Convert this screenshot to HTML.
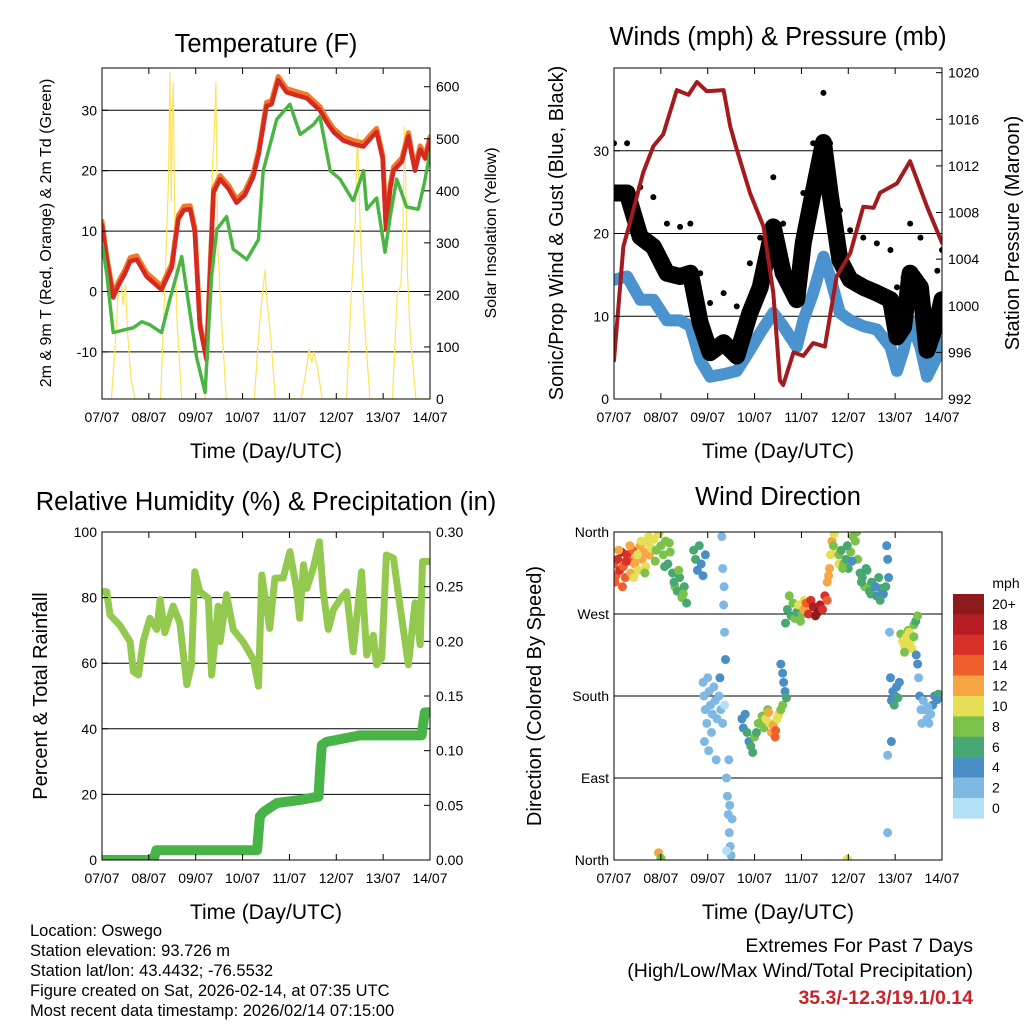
<!DOCTYPE html>
<html><head><meta charset="utf-8"><style>
body{margin:0;background:#fff;}
svg text{font-family:"Liberation Sans",sans-serif;fill:#000;}
</style></head><body>
<svg id="c" width="1024" height="1024" viewBox="0 0 1024 1024"></svg>
<script>
// ---------- DATA ----------
const dayTicks = ["07/07","08/07","09/07","10/07","11/07","12/07","13/07","14/07"];
const tempDays = [0,0.1,0.24,0.35,0.49,0.6,0.74,0.95,1.27,1.49,1.63,1.75,1.88,1.98,2.09,2.23,2.3,2.38,2.52,2.7,2.87,3.05,3.23,3.35,3.51,3.62,3.76,3.94,4.15,4.37,4.65,4.8,4.94,5.15,5.36,5.58,5.75,5.86,5.99,6.06,6.15,6.22,6.4,6.54,6.6,6.68,6.79,6.9,7.0];
const tempVals = [11,5.3,-1,1,3,5,5.3,2.5,0.3,4,12,13.5,13.6,10,-5.8,-11.3,2,16.4,18.6,17,14.7,16,19,23,30.7,31,35,33,32.5,32,30,28,26.4,25,24.4,24,25.5,26.4,22,10.3,17,20,21.5,25.7,23,20,23.5,22,25];
const dewDays = [0,0.1,0.24,0.4,0.67,0.85,1.02,1.27,1.45,1.7,1.81,2.02,2.2,2.34,2.45,2.66,2.8,3.09,3.34,3.44,3.73,4.01,4.23,4.51,4.65,4.87,5.08,5.36,5.58,5.65,5.86,6.04,6.15,6.29,6.5,6.75,6.88,7.0];
const dewVals = [8,3,-6.8,-6.5,-6,-5,-5.5,-6.8,-1.3,5.8,0,-11,-16.7,2.6,10.3,12.4,7,5.3,8.6,20,28.5,31,26,27.6,29,20,18.6,15,20,13.6,15.5,6.5,12.4,18.6,14,13.6,18,23];
const solarDays = [0,0.2,0.3,0.35,0.4,0.45,0.5,0.55,0.62,0.7,1.25,1.35,1.42,1.45,1.48,1.5,1.52,1.56,1.6,1.7,2.2,2.3,2.36,2.4,2.43,2.47,2.52,2.65,3.25,3.35,3.42,3.48,3.52,3.6,3.7,4.25,4.35,4.42,4.48,4.52,4.6,4.7,5.22,5.32,5.4,5.45,5.48,5.52,5.6,5.72,6.2,6.3,6.38,6.42,6.45,6.48,6.52,6.58,6.7,7.0];
const solarVals = [0,0,130,210,240,180,220,120,40,0,0,240,420,627,380,540,608,300,150,0,0,250,450,520,608,300,200,0,0,130,200,248,190,120,0,0,50,95,70,90,60,0,0,200,330,511,420,300,150,0,0,200,220,300,523,430,240,120,0,0];
const windDays = [0,0.28,0.56,0.84,1.13,1.41,1.63,1.84,2.05,2.34,2.62,2.9,3.12,3.4,3.61,3.9,4.04,4.25,4.47,4.61,4.82,5.04,5.32,5.61,5.9,6.04,6.18,6.32,6.54,6.68,6.9,7.0];
const gustVals = [24.9,24.9,19.6,18.4,15.2,14.8,15.2,9.2,5.6,6.8,5.2,10.4,13.5,20.8,15.2,12,18.9,24.9,31,24.9,16.8,14.4,13.5,12.8,12,7.5,8.7,15.2,13.5,5.9,9.5,12];
const sustVals = [14.4,14.8,12,12,9.5,9.5,8.8,4.7,2.7,3,3.4,5.9,8,10.4,8.8,6.3,9.5,12.8,17.2,14.8,10.4,9.5,8.8,8.4,6.3,3.4,5.9,9.5,6.3,2.7,5.2,6.9];
const presDays = [0,0.2,0.34,0.62,0.84,1.05,1.34,1.59,1.77,1.98,2.34,2.48,2.62,2.9,3.19,3.4,3.54,3.61,3.83,4.04,4.25,4.5,4.75,5.04,5.32,5.54,5.68,6.04,6.32,6.68,7.0];
const presVals = [995.3,1005.1,1007.1,1011.4,1013.7,1014.7,1018.5,1018.1,1019.2,1018.4,1018.5,1015.4,1013.4,1009.7,1006.8,1001.1,993.6,993.2,996,995.7,996.8,996.5,1002.5,1004.5,1008.5,1008.4,1009.7,1010.5,1012.4,1008.5,1005.4];
const rhDays = [0,0.1,0.17,0.38,0.6,0.67,0.78,0.88,1.02,1.17,1.24,1.34,1.52,1.66,1.81,1.91,1.98,2.09,2.27,2.34,2.48,2.52,2.66,2.8,3.02,3.23,3.34,3.41,3.58,3.69,3.87,4.01,4.15,4.22,4.3,4.37,4.51,4.64,4.72,4.83,4.94,5.08,5.22,5.36,5.54,5.65,5.79,5.86,5.97,6.07,6.22,6.36,6.54,6.68,6.79,6.84,7.0];
const rhVals = [81.8,81.8,74.7,71.6,66.6,57.4,56.4,66.6,73.7,70.3,79.4,69.3,77.4,72.3,53.4,59.5,87.9,81.8,79.8,56.4,77.4,66.6,80.9,70.3,66.3,61.2,53,86.9,70.6,85.9,86,94,82.8,73.7,90,82.8,89,97,81.8,70.3,76.4,79.4,81.8,63.5,87.9,62.5,68.5,59.5,61.5,93,92,77.4,59.5,78.4,65.6,91,91];
const rainDays = [0,1.1,1.16,3.31,3.37,3.45,3.73,4.23,4.62,4.65,4.69,4.79,5.5,6.82,6.89,7.0];
const rainVals = [0,0,0.009,0.009,0.04,0.044,0.052,0.055,0.058,0.08,0.105,0.108,0.114,0.114,0.135,0.135];
const dirDays = [].concat(
 [0,0.04,0.08,0.12,0.16,0.2,0.24,0.28,0.32,0.36,0.4,0.44,0.48,0.52,0.56,0.6,0.64,0.68,0.72,0.76,0.8,0.02,0.1,0.18,0.26,0.34,0.42,0.5,0.58,0.66,0.74],
 [0.85,0.9,0.95,1.0,1.05,1.1,1.15,1.2,1.25,1.3,1.35,1.4,1.45,1.5,1.55,0.88,0.98,1.08,1.18,1.28,1.38,1.48],
 [1.7,1.74,1.78,1.82,1.86,1.9,1.95],
 [1.9,1.92,1.95,1.98,2.0,2.03,2.06,2.1,2.13,2.16,2.2,2.24,2.28,2.32,2.36,1.93,2.02,2.08,2.18,2.26],
 [2.3,2.32,2.34,2.36,2.38,2.4,2.42,2.44,2.46,2.48,2.5,2.52,2.35,2.45,2.4,2.47],
 [2.73,2.76,2.8,2.84,2.88,2.92,2.96,3.0,3.04,3.08],
 [3.12,3.16,3.2,3.24,3.28,3.32,3.36,3.4,3.44,3.48,3.52,3.56,3.6,3.3,3.45],
 [3.56,3.6,3.62,3.65,3.68],
 [3.66,3.7,3.74,3.78,3.82,3.86,3.9,3.94,3.98,4.02,4.06,4.1],
 [4.05,4.1,4.15,4.2,4.25,4.3,4.35,4.4,4.45,4.5,4.55],
 [4.55,4.6,4.62,4.65,4.7,4.75,4.8,4.58,4.68],
 [4.8,4.85,4.9,4.95,5.0,5.05,5.1,5.15,5.2,5.25,5.3,5.35,5.4,5.45,5.5,5.55,5.6,5.65,5.7,5.75,5.8,4.88,4.98,5.08,5.18,5.28,5.38,5.48,5.58,5.68],
 [5.82,5.84,5.86,5.88,5.9,5.92,5.84,5.84],
 [5.92,5.95,5.98,6.0,6.03,6.06,6.09],
 [6.12,6.16,6.2,6.24,6.28,6.32,6.36,6.4,6.44,6.48,6.2,6.3,6.4],
 [6.45,6.48,6.5,6.52,6.55,6.57],
 [6.6,6.64,6.68,6.72,6.76,6.8,6.84,6.88,6.92,6.96,7.0,6.7,6.9],
 [0.95,1.0,4.98]);
const dirVals = [].concat(
 [325,312,330,318,338,322,310,335,328,315,340,325,332,318,345,330,338,322,348,335,342,305,340,300,328,345,310,335,350,315,355],
 [352,340,358,345,335,350,325,338,315,300,295,310,288,300,282,328,360,322,348,305,318,292],
 [340,330,318,345,325,312,335],
 [195,180,165,150,200,185,170,160,190,175,155,180,165,150,170,130,120,140,110,200],
 [355,320,280,250,220,90,70,50,30,15,5,45,300,110,10,60],
 [155,145,160,140,130,125,118,135,140,150],
 [150,158,145,155,165,150,140,148,135,155,160,165,170,162,142],
 [215,205,195,185,178],
 [260,275,290,268,282,265,272,280,262,270,285,278],
 [275,282,270,285,278,268,272,280,275,290,285],
 [305,320,335,350,358,340,325,312,345],
 [335,340,325,330,320,338,355,350,330,315,310,300,318,295,305,300,290,310,298,292,300,320,345,328,360,305,320,292,300,285],
 [345,330,310,250,200,130,115,30],
 [175,185,170,180,190,178,195],
 [248,240,235,245,252,238,232,258,262,268,228,250,245],
 [225,215,200,180,165,150],
 [175,165,155,150,160,170,180,178,182,180,181,168,176],
 [8,2,1]);
const dirSpeeds = [].concat(
 [15,14,17,16,19,15,14,16,14,13,15,12,13,11,12,12,13,10,11,12,10,14,13,15,16,12,11,10,11,9,10],
 [10,9,10,8,8,9,7,8,7,8,7,7,8,7,6,9,10,7,8,7,8,8],
 [6,6,5,6,4,5,4],
 [2,3,2,2,2,3,2,2,3,2,2,2,2,3,1,3,2,3,2,4],
 [2,3,3,3,4,2,2,3,2,2,3,2,3,2,1,2],
 [4,4,5,6,5,7,6,8,7,8],
 [8,9,8,10,9,11,13,12,15,11,10,9,8,12,14],
 [4,4,5,4,6],
 [6,7,8,7,8,9,7,10,9,8,10,11],
 [12,14,16,17,19,20,21,18,17,16,14],
 [13,12,11,12,10,11,10,12,9],
 [8,7,8,6,7,8,9,8,8,7,6,8,6,7,6,6,5,6,6,5,7,9,7,5,9,6,7,6,5,6],
 [4,4,4,3,4,4,3,3],
 [4,4,6,5,4,6,4],
 [8,10,11,10,9,10,11,8,7,8,9,11,8],
 [4,4,3,4,3,2],
 [2,2,3,2,2,4,4,5,6,6,7,3,5],
 [12,9,10]);
const speedLabels = ["20+","18","16","14","12","10","8","6","4","2","0"];
const speedColors = ["#8e1a1b","#b71c23","#d9302a","#ef5f2b","#f6a744","#e6df56","#7bc24a","#48a873","#4a8ec6","#7fb8e2","#b3e0f5"];

// ---------- HELPERS ----------
const NS="http://www.w3.org/2000/svg";
const svg=document.getElementById('c');
function mk(tag,attrs,parent){const e=document.createElementNS(NS,tag);for(const k in attrs)e.setAttribute(k,attrs[k]);(parent||svg).appendChild(e);return e;}
function txt(s,x,y,size,anchor,parent,rot){const e=mk('text',{x:x,y:y,'font-size':size,'text-anchor':anchor||'middle'},parent);if(rot)e.setAttribute('transform','rotate(-90 '+x+' '+y+')');e.textContent=s;return e;}
function lin(d0,d1,r0,r1){return v=>r0+(v-d0)/(d1-d0)*(r1-r0);}
function pathD(xs,ys,fx,fy){return xs.map((d,i)=>(i?'L':'M')+fx(d).toFixed(1)+' '+fy(ys[i]).toFixed(1)).join(' ');}

function panel(name,x0,x1,y0,y1,leftDom,leftTicks,leftFmt,rightDom,rightTicks,rightFmt,grid){
  const g=mk('g',{});
  
  
  const fx=lin(0,7,x0,x1), fy=lin(leftDom[0],leftDom[1],y1,y0);
  const fr=rightDom?lin(rightDom[0],rightDom[1],y1,y0):null;
  const clipId='clip-'+name;
  const cp=mk('clipPath',{id:clipId},g);
  mk('rect',{x:x0,y:y0,width:x1-x0,height:y1-y0},cp);
  if(grid){leftTicks.forEach(t=>{const l=mk('line',{x1:x0,x2:x1,y1:fy(t),y2:fy(t),stroke:'#000','stroke-width':1},g);
    
    });}
  const data=mk('g',{'clip-path':'url(#'+clipId+')'},g);
  
  
  const fr0=mk('rect',{x:x0,y:y0,width:x1-x0,height:y1-y0,fill:'none',stroke:'#000','stroke-width':1},g);
  
  
  const xt=mk('g',{},g);
  
  
  dayTicks.forEach((s,i)=>{const x=fx(i);
    mk('line',{x1:x,x2:x,y1:y1,y2:y1-6,stroke:'#000'},xt);
    mk('line',{x1:x,x2:x,y1:y0,y2:y0+6,stroke:'#000'},xt);
    const t=txt(s,x,y1+23,14,'middle',xt);
    
    });
  const yl=mk('g',{},g);
  
  
  leftTicks.forEach(t=>{const y=fy(t);mk('line',{x1:x0,x2:x0+6,y1:y,y2:y,stroke:'#000'},yl);
    const e=txt(leftFmt(t),x0-5,y+5,14,'end',yl);
    
    });
  if(fr){const yr=mk('g',{},g);
    
    
    rightTicks.forEach(t=>{const y=fr(t);mk('line',{x1:x1,x2:x1-6,y1:y,y2:y,stroke:'#000'},yr);
      const e=txt(rightFmt(t),x1+6,y+5,14,'start',yr);
      
      });}
  return {g:data,fx,fy,fr};
}
function line(g,xs,ys,fx,fy,color,w,name){const p=mk('path',{d:pathD(xs,ys,fx,fy),fill:'none',stroke:color,'stroke-width':w,'stroke-linejoin':'round','stroke-linecap':'round'},g);
  
  return p;}

// ---------- PANEL 1 ----------
const p1=panel('temperature-panel',102,430,68,399,[-17.8,37],[-10,0,10,20,30],v=>String(v),[0,636],[0,100,200,300,400,500,600],v=>String(v),true);
line(p1.g,solarDays,solarVals,p1.fx,p1.fr,'#fde35a',1.2,'solar-insolation-line');
line(p1.g,tempDays,tempVals.map(v=>v+0.6),p1.fx,p1.fy,'#f07a2a',5,'temp-9m-line');
line(p1.g,tempDays,tempVals,p1.fx,p1.fy,'#d42a22',4.5,'temp-2m-line');
const dl=line(p1.g,dewDays,dewVals,p1.fx,p1.fy,'#4bb543',3.5,'dewpoint-line');
dl.setAttribute('stroke-dasharray','3 1.5');
const t1=txt('Temperature (F)',266,52,25.5,'middle');


const a1=txt('Time (Day/UTC)',266,458,21,'middle');


const l1=txt('2m & 9m T (Red, Orange) & 2m Td (Green)',51,233,16,'middle',svg,true);


const r1=txt('Solar Insolation (Yellow)',496,233,16,'middle',svg,true);



// ---------- PANEL 2 ----------
const p2=panel('winds-panel',614,942,68,399,[0,40],[0,10,20,30],v=>String(v),[992,1020.4],[992,996,1000,1004,1008,1012,1016,1020],v=>String(v),true);
line(p2.g,windDays,sustVals,p2.fx,p2.fy,'#4b93cf',12,'sustained-wind-band');
line(p2.g,windDays,gustVals,p2.fx,p2.fy,'#000',17,'gust-band');
windDays.forEach((d,i)=>{const c=mk('circle',{cx:p2.fx(d),cy:p2.fy(gustVals[i]+6),r:3,fill:'#000'},p2.g);
  
  });
line(p2.g,presDays,presVals,p2.fx,p2.fr,'#a31b1f',4,'pressure-line');
const t2=txt('Winds (mph) & Pressure (mb)',778,45,25.5,'middle');


const a2=txt('Time (Day/UTC)',778,458,21,'middle');


const l2=txt('Sonic/Prop Wind & Gust (Blue, Black)',563,233,20,'middle',svg,true);


const r2=txt('Station Pressure (Maroon)',1019,233,20,'middle',svg,true);



// ---------- PANEL 3 ----------
const p3=panel('humidity-panel',102,430,532,860,[0,100],[0,20,40,60,80,100],v=>String(v),[0,0.3],[0,0.05,0.1,0.15,0.2,0.25,0.3],v=>v.toFixed(2),true);
line(p3.g,rhDays,rhVals,p3.fx,p3.fy,'#93c94f',7,'humidity-line');
line(p3.g,rainDays,rainVals,p3.fx,p3.fr,'#48b447',10,'rainfall-line');
const t3=txt('Relative Humidity (%) & Precipitation (in)',266,510,25.5,'middle');


const a3=txt('Time (Day/UTC)',266,919,21,'middle');


const l3=txt('Percent & Total Rainfall',47,696,20,'middle',svg,true);



// ---------- PANEL 4 ----------
const p4=panel('wind-direction-panel',614,942,532,860,[0,360],[0,90,180,270,360],v=>({0:'North',90:'East',180:'South',270:'West',360:'North'})[v],null,null,null,true);
function spdColor(s){let i=10-Math.floor(s/2);if(i<0)i=0;if(i>10)i=10;return speedColors[i];}
dirDays.forEach((d,i)=>{const c=mk('circle',{cx:p4.fx(d),cy:p4.fy(dirVals[i]),r:4.5,fill:spdColor(dirSpeeds[i])},p4.g);
  
  });
const t4=txt('Wind Direction',778,505,25.5,'middle');


const a4=txt('Time (Day/UTC)',778,919,21,'middle');


const l4=txt('Direction (Colored By Speed)',541,696,20,'middle',svg,true);


const cb=mk('g',{});


const cbu=txt('mph',1006,588,14,'middle',cb);


speedLabels.forEach((s,i)=>{const y=594+i*20.4;
  const r=mk('rect',{x:953,y:y,width:31,height:20.6,fill:speedColors[i]},cb);
  
  
  const t=txt(s,992,y+15,14,'start',cb);
  
  });

// ---------- Footer ----------
const info=["Location: Oswego","Station elevation: 93.726 m","Station lat/lon: 43.4432; -76.5532","Figure created on Sat, 2026-02-14, at 07:35 UTC","Most recent data timestamp: 2026/02/14 07:15:00"];
info.forEach((s,i)=>{const t=txt(s,30,936+i*20,16.5,'start');
  
  });
const e1=txt('Extremes For Past 7 Days',973,952,19.5,'end');


const e2=txt('(High/Low/Max Wind/Total Precipitation)',973,977,19.5,'end');


const e3=txt('35.3/-12.3/19.1/0.14',973,1004,19.5,'end');
e3.setAttribute('font-weight','bold');
e3.setAttribute('style','fill:#cc2229');


</script>
</body></html>
